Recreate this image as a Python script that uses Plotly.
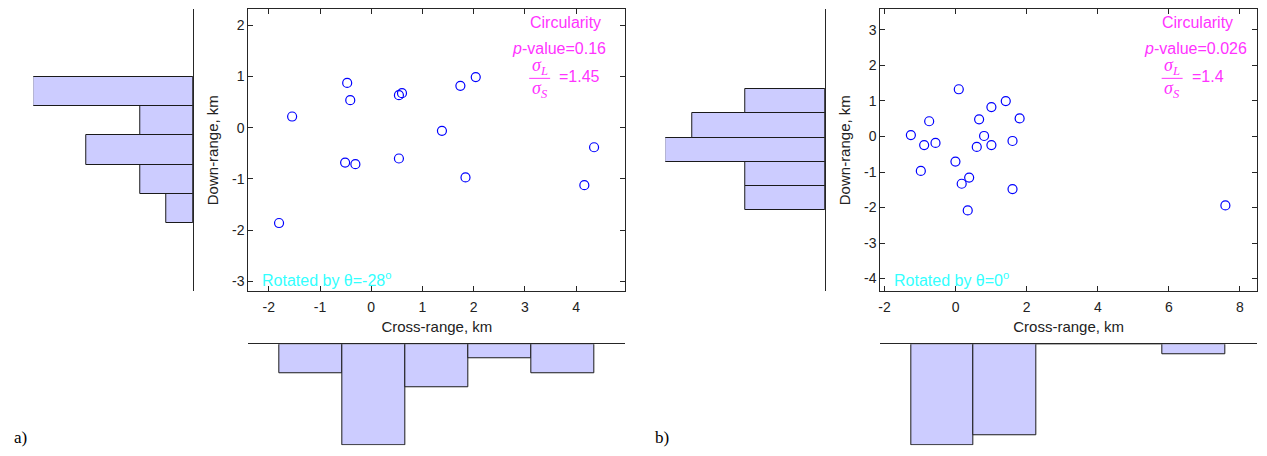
import numpy as np
import plotly.graph_objects as go

# ---------------- data ----------------
a_cross = [-1.80, -1.545, -0.47, -0.41, -0.51, -0.31, 0.54, 0.60, 0.54, 1.38, 1.74, 2.04, 1.84, 4.16, 4.35]
a_down = [-1.86, 0.22, 0.877, 0.54, -0.68, -0.71, 0.636, 0.675, -0.60, -0.06, 0.82, 0.99, -0.97, -1.12, -0.38]

b_cross = [-1.26, -0.886, -0.745, -0.567, -0.98, 0.088, -0.006, 0.17, 0.38, 0.34,
           0.66, 0.594, 0.80, 1.006, 1.006, 1.41, 1.80, 1.60, 1.60, 7.59]
b_down = [0.04, -0.24, 0.43, -0.18, -0.97, 1.33, -0.706, -1.33, -1.155, -2.08,
          0.483, -0.294, 0.015, 0.829, -0.24, 0.997, 0.51, -0.126, -1.48, -1.94]

a_xticks = [-2, -1, 0, 1, 2, 3, 4]
a_yticks = [-3, -2, -1, 0, 1, 2]
b_xticks = [-2, 0, 2, 4, 6, 8]
b_yticks = [-4, -3, -2, -1, 0, 1, 2, 3]

a_pvalue = "0.16"
a_ratio = "1.45"
a_theta = "-28"
b_pvalue = "0.026"
b_ratio = "1.4"
b_theta = "0"
N_BINS = 5

# ---------------- layout helpers ----------------
PAGE_MARGIN = 8          # default body margin of the html page
W, H = 1267 - PAGE_MARGIN, 456 - PAGE_MARGIN
FILL = "#CCCCFF"
EDGE = "#1a1a1a"
AXC = "#262626"
MAG = "#FF33FF"
CYA = "#33FFFF"
FONT = "Liberation Sans, Arial, sans-serif"
SERIF = "Liberation Serif, Times New Roman, serif"


def clamp(v):
    return min(1.0, max(0.0, v))


def px_x(v):
    return clamp((v - PAGE_MARGIN) / W)


def px_y(v):
    return clamp(1 - (v - PAGE_MARGIN) / H)


fig = go.Figure()
annotations = []
shapes = []


def panel(n0, cross, down, xr, yr, xt, yt, box, yh_left, xh_bottom):
    def xa(i):
        return "x" if i == 1 else f"x{i}"

    def ya(i):
        return "y" if i == 1 else f"y{i}"

    def lk(prefix, i):
        return prefix if i == 1 else f"{prefix}{i}"

    s, hy, hx = n0, n0 + 1, n0 + 2
    bl, br, bt, bb = box
    # scatter
    fig.add_trace(go.Scatter(x=cross, y=down, mode="markers", xaxis=xa(s), yaxis=ya(s),
                             marker=dict(symbol="circle-open", size=9, color="#0000FF",
                                         line=dict(width=1.2, color="#0000FF")),
                             showlegend=False, hoverinfo="x+y", cliponaxis=False))
    ax_common = dict(showgrid=False, zeroline=False, showline=True, linecolor=AXC, linewidth=1,
                     mirror="ticks", ticks="inside", ticklen=5, tickcolor=AXC,
                     tickfont=dict(family=FONT, size=14, color="#222"))
    fig.layout[lk("xaxis", s)] = dict(domain=[px_x(bl), px_x(br)], range=xr, anchor=ya(s),
                                      tickvals=xt, ticktext=[str(t) for t in xt],
                                      ticklabelstandoff=3,
                                      title=dict(text="Cross-range, km", standoff=7,
                                                 font=dict(family=FONT, size=15, color="#222")),
                                      **ax_common)
    fig.layout[lk("yaxis", s)] = dict(domain=[px_y(bb), px_y(bt)], range=yr, anchor=xa(s),
                                      tickvals=yt, ticktext=[str(t) for t in yt],
                                      title=dict(text="Down-range, km", standoff=9,
                                                 font=dict(family=FONT, size=15, color="#222")),
                                      **ax_common)

    # histogram of down-range (left, horizontal bars)
    cy, ey = np.histogram(down, bins=N_BINS, range=(min(down), max(down)))
    centers_y = (ey[:-1] + ey[1:]) / 2
    wy = ey[1] - ey[0]
    fig.add_trace(go.Bar(y=centers_y, x=cy, width=wy, orientation="h", xaxis=xa(hy), yaxis=ya(hy),
                         marker=dict(color=FILL, line=dict(color=EDGE, width=1)),
                         showlegend=False, hoverinfo="x+y"))
    l0, l1 = yh_left
    fig.layout[lk("xaxis", hy)] = dict(domain=[px_x(l0), px_x(l1)], range=[cy.max(), 0],
                                       anchor=ya(hy), visible=False)
    fig.layout[lk("yaxis", hy)] = dict(domain=[px_y(bb), px_y(bt)], range=yr, anchor=xa(hy),
                                       side="right", showline=True, linecolor=AXC, linewidth=1,
                                       showticklabels=False, ticks="", showgrid=False, zeroline=False)

    # histogram of cross-range (bottom, hanging bars)
    cx, ex = np.histogram(cross, bins=N_BINS, range=(min(cross), max(cross)))
    centers_x = (ex[:-1] + ex[1:]) / 2
    wx = ex[1] - ex[0]
    fig.add_trace(go.Bar(x=centers_x, y=cx, width=wx, xaxis=xa(hx), yaxis=ya(hx),
                         marker=dict(color=FILL, line=dict(color=EDGE, width=1)),
                         showlegend=False, hoverinfo="x+y"))
    t0, t1 = xh_bottom
    fig.layout[lk("xaxis", hx)] = dict(domain=[px_x(bl), px_x(br)], range=xr, anchor=ya(hx),
                                       side="top", showline=True, linecolor=AXC, linewidth=1,
                                       showticklabels=False, ticks="", showgrid=False, zeroline=False)
    fig.layout[lk("yaxis", hx)] = dict(domain=[px_y(t1), px_y(t0)], range=[cx.max(), 0],
                                       anchor=xa(hx), visible=False)


# panel a
panel(1, a_cross, a_down, [-2.40, 4.96], [-3.195, 2.32], a_xticks, a_yticks,
      (246.7, 624.3, 8.0, 291.0), (31.3, 191.7), (344.0, 445.3))
# panel b
panel(4, b_cross, b_down, [-2.12, 8.48], [-4.36, 3.59], b_xticks, b_yticks,
      (879.7, 1257.0, 8.0, 291.0), (664.3, 824.3), (344.0, 445.3))


def add_text(x, y, text, color, size=16, family=FONT, xanchor="center"):
    annotations.append(dict(x=px_x(x), y=px_y(y), xref="paper", yref="paper", text=text,
                            showarrow=False, xanchor=xanchor, yanchor="middle",
                            font=dict(family=family, size=size, color=color)))


def stats_block(cx_circ, cx_p, frac_x, eq_x, pval, ratio):
    add_text(cx_circ, 22, "Circularity", MAG)
    add_text(cx_p, 48, f"<i>p</i>-value={pval}", MAG)
    add_text(frac_x, 66, "<i>σ</i><sub><i>L</i></sub>", MAG, size=18, family=SERIF)
    add_text(frac_x, 89, "<i>σ</i><sub><i>S</i></sub>", MAG, size=18, family=SERIF)
    shapes.append(dict(type="line", xref="paper", yref="paper",
                       x0=px_x(frac_x - 10.5), x1=px_x(frac_x + 10.5), y0=px_y(77.5), y1=px_y(77.5),
                       line=dict(color=MAG, width=1)))
    add_text(eq_x, 76, f"={ratio}", MAG, xanchor="left")


stats_block(564, 558, 538.5, 555.5, a_pvalue, a_ratio)
stats_block(1197.7, 1195.7, 1172, 1190, b_pvalue, b_ratio)

add_text(258, 279, f"Rotated by θ={a_theta}<sup>o</sup>", CYA, xanchor="left")
add_text(891, 279, f"Rotated by θ={b_theta}<sup>o</sup>", CYA, xanchor="left")

add_text(10, 437, "a)", "#000", size=17, family=SERIF, xanchor="left")
add_text(652, 437, "b)", "#000", size=17, family=SERIF, xanchor="left")

fig.update_layout(width=W, height=H, margin=dict(l=0, r=0, t=0, b=0),
                  paper_bgcolor="white", plot_bgcolor="white", bargap=0,
                  annotations=annotations, shapes=shapes, showlegend=False)

fig.write_html("out.html")
